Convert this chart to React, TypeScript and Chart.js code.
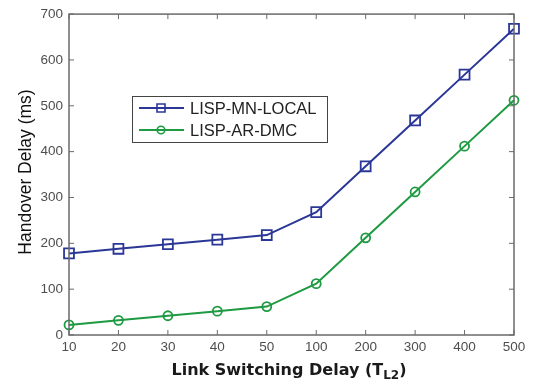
import React, { useEffect, useRef } from "react";
import { Chart, registerables } from "chart.js";

Chart.register(...registerables);

const categories = ["10", "20", "30", "40", "50", "100", "200", "300", "400", "500"];
const mnLocal = [178, 188, 198, 208, 218, 268, 368, 468, 568, 668];
const arDmc = [22, 32, 42, 52, 62, 112, 212, 312, 412, 512];
const seriesNames = ["LISP-MN-LOCAL", "LISP-AR-DMC"];
const seriesColors = ["#2b3797", "#1e9a42"];
const yTitle = "Handover Delay (ms)";
const xTitleMain = "Link Switching Delay (T";
const xTitleSub = "L2";
const xTitleEnd = ")";

const overlayPlugin = {
  id: "matlabOverlay",
  afterDraw(chart: any) {
    const ctx = chart.ctx as CanvasRenderingContext2D;
    const a = chart.chartArea;
    const xs = chart.scales.x;
    const ys = chart.scales.y;
    ctx.save();
    // frame
    ctx.strokeStyle = "#6a6a6a";
    ctx.lineWidth = 1.5;
    ctx.strokeRect(a.left, a.top, a.right - a.left, a.bottom - a.top);
    // inward ticks
    ctx.lineWidth = 1;
    ctx.beginPath();
    const tl = 5;
    xs.ticks.forEach((_t: any, i: number) => {
      const px = xs.getPixelForTick(i);
      ctx.moveTo(px, a.bottom);
      ctx.lineTo(px, a.bottom - tl);
      ctx.moveTo(px, a.top);
      ctx.lineTo(px, a.top + tl);
    });
    ys.ticks.forEach((_t: any, i: number) => {
      const py = ys.getPixelForTick(i);
      ctx.moveTo(a.left, py);
      ctx.lineTo(a.left + tl, py);
      ctx.moveTo(a.right, py);
      ctx.lineTo(a.right - tl, py);
    });
    ctx.stroke();

    // y title
    ctx.save();
    ctx.translate(26, 172);
    ctx.rotate(-Math.PI / 2);
    ctx.fillStyle = "#111";
    ctx.font = "17.5px 'Liberation Sans', Arial, sans-serif";
    ctx.textAlign = "center";
    ctx.textBaseline = "middle";
    ctx.fillText(yTitle, 0, 0);
    ctx.restore();

    // x title with subscript
    const mainFont = "bold 16px 'DejaVu Sans', Verdana, sans-serif";
    const subFont = "bold 12px 'DejaVu Sans', Verdana, sans-serif";
    ctx.font = mainFont;
    const w1 = ctx.measureText(xTitleMain).width;
    const w3 = ctx.measureText(xTitleEnd).width;
    ctx.font = subFont;
    const w2 = ctx.measureText(xTitleSub).width;
    const total = w1 + w2 + w3;
    const cx = 289;
    const x0 = cx - total / 2;
    const base = 375;
    ctx.fillStyle = "#1a1a1a";
    ctx.textAlign = "left";
    ctx.textBaseline = "alphabetic";
    ctx.font = mainFont;
    ctx.fillText(xTitleMain, x0, base);
    ctx.font = subFont;
    ctx.fillText(xTitleSub, x0 + w1, base + 4);
    ctx.font = mainFont;
    ctx.fillText(xTitleEnd, x0 + w1 + w2, base);

    // legend
    const lx = 132, ly = 96, lw = 195, lh = 46;
    ctx.fillStyle = "#ffffff";
    ctx.fillRect(lx, ly, lw, lh);
    ctx.strokeStyle = "#444";
    ctx.lineWidth = 1;
    ctx.strokeRect(lx + 0.5, ly + 0.5, lw, lh);
    const rows = [108, 130];
    rows.forEach((ry, i) => {
      ctx.strokeStyle = seriesColors[i];
      ctx.lineWidth = 2;
      ctx.beginPath();
      ctx.moveTo(139, ry);
      ctx.lineTo(184, ry);
      ctx.stroke();
      ctx.lineWidth = 1.6;
      ctx.beginPath();
      if (i === 0) {
        ctx.rect(157, ry - 4, 8, 8);
      } else {
        ctx.arc(161, ry, 3.8, 0, Math.PI * 2);
      }
      ctx.stroke();
      ctx.fillStyle = "#222";
      ctx.font = "16.5px 'Liberation Sans', Arial, sans-serif";
      ctx.textAlign = "left";
      ctx.textBaseline = "middle";
      ctx.fillText(seriesNames[i], 190, ry + 1);
    });
    ctx.restore();
  },
};

export default function App() {
  const ref = useRef<HTMLCanvasElement | null>(null);
  useEffect(() => {
    document.body.style.margin = "0";
    const canvas = ref.current!;
    const chart = new Chart(canvas, {
      type: "line",
      data: {
        labels: categories,
        datasets: [
          {
            label: seriesNames[0],
            data: mnLocal,
            borderColor: seriesColors[0],
            borderWidth: 2,
            pointStyle: "rect",
            pointRadius: 7,
            pointBorderWidth: 1.8,
            pointBorderColor: seriesColors[0],
            pointBackgroundColor: "rgba(0,0,0,0)",
            tension: 0,
          },
          {
            label: seriesNames[1],
            data: arDmc,
            borderColor: seriesColors[1],
            borderWidth: 2,
            pointStyle: "circle",
            pointRadius: 4.5,
            pointBorderWidth: 1.8,
            pointBorderColor: seriesColors[1],
            pointBackgroundColor: "rgba(0,0,0,0)",
            tension: 0,
          },
        ],
      },
      options: {
        responsive: false,
        animation: false,
        devicePixelRatio: 1,
        layout: { padding: { top: 7, right: 22, left: 0, bottom: 0 } },
        plugins: { legend: { display: false }, tooltip: { enabled: false } },
        scales: {
          x: {
            type: "category",
            offset: false,
            grid: { display: false, drawTicks: false },
            border: { display: false },
            ticks: {
              color: "#4e4e4e",
              font: { family: "'Liberation Sans', Arial, sans-serif", size: 13.5 },
              padding: 4,
              maxRotation: 0,
              autoSkip: false,
            },
            afterFit: (s: any) => {
              s.height = 48;
            },
          },
          y: {
            min: 0,
            max: 700,
            grid: { display: false, drawTicks: false },
            border: { display: false },
            ticks: {
              stepSize: 100,
              color: "#4e4e4e",
              font: { family: "'Liberation Sans', Arial, sans-serif", size: 13.5 },
              padding: 6,
            },
            afterFit: (s: any) => {
              s.width = 69;
            },
          },
        },
      },
      plugins: [overlayPlugin],
    });
    return () => chart.destroy();
  }, []);
  return (
    <div style={{ position: "absolute", left: 0, top: 0, width: 536, height: 383, background: "#fff" }}>
      <canvas ref={ref} width={536} height={383} />
    </div>
  );
}
